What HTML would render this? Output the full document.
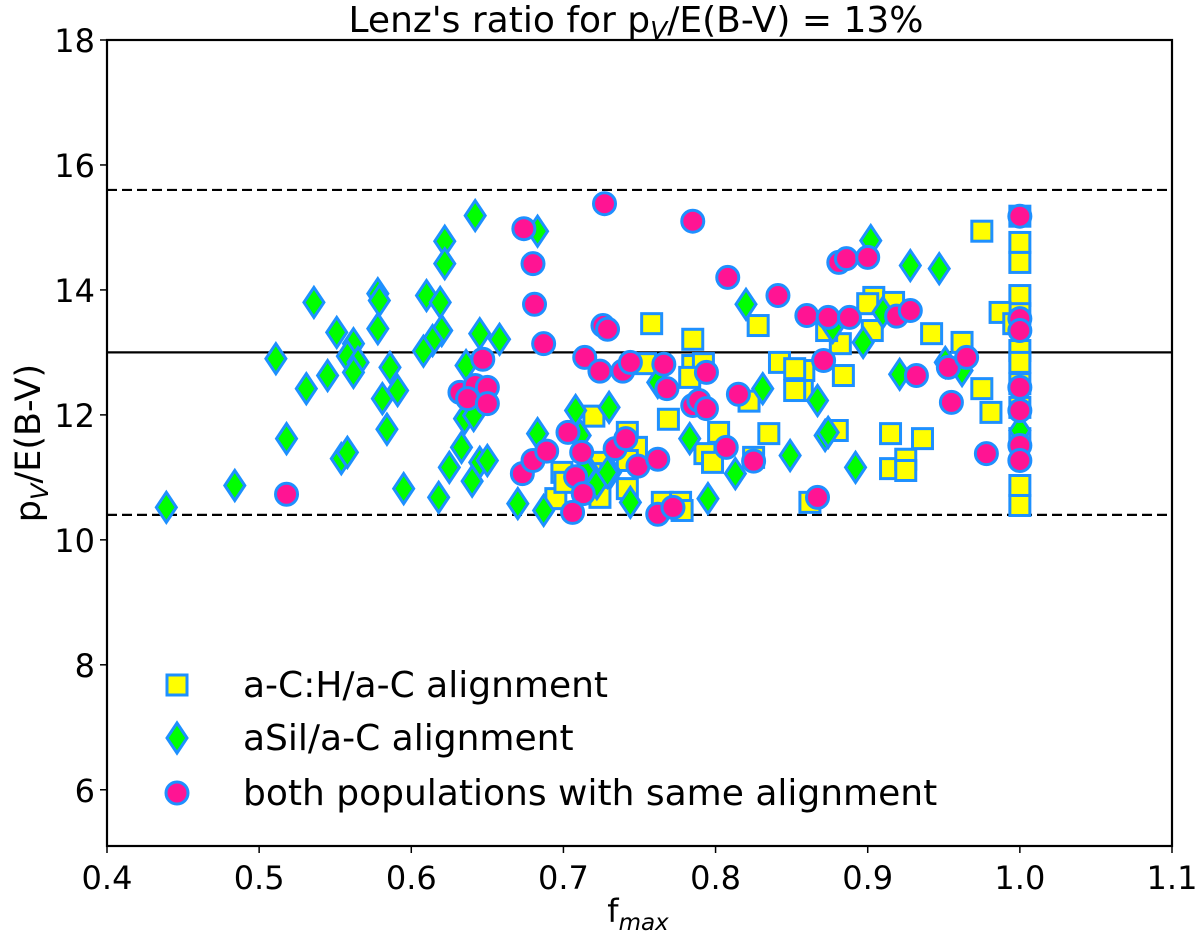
<!DOCTYPE html>
<html>
<head>
<meta charset="utf-8">
<style>
  html,body{margin:0;padding:0;background:#fff;}
  svg{display:block;font-family:"DejaVu Sans","Liberation Sans",sans-serif;}
</style>
</head>
<body>
<svg id="chart" width="1200" height="939" viewBox="0 0 1200 939" xmlns="http://www.w3.org/2000/svg">
  <g id="grid-lines"></g>
  <g id="marks"></g>
  <g id="axes"></g>
  <text x="636" y="32" font-size="36" text-anchor="middle">Lenz's ratio for p<tspan font-size="25" dy="7" font-style="italic">V</tspan><tspan dy="-7">/E(B-V) = 13%</tspan></text>
  <text x="638" y="922" font-size="32" text-anchor="middle">f<tspan font-size="23" dy="8" font-style="italic">max</tspan></text>
  <text transform="translate(40,443) rotate(-90)" font-size="35" text-anchor="middle">p<tspan font-size="24" dy="8" font-style="italic">V</tspan><tspan dy="-8">/E(B-V)</tspan></text>
  <g id="legend"></g>
</svg>
<script>
// ---- data ----
const squareX = [1.0,1.0,1.0,1.0,1.0,1.0,1.0,1.0,1.0,1.0,1.0,1.0,
  .975,.987,.996,.942,.962,.975,.981,.915,.936,.915,.925,.925,.904,.917,.900,.903,.882,.884,.873,.858,.857,.880,.862,
  .758,.785,.828,.754,.785,.792,.783,.842,.852,.852,.822,.769,.720,.742,.802,.835,.748,.793,.798,.699,.724,.742,.825,
  .695,.724,.742,.701,.718,.765,.777,.778];
const squareY = [15.18,14.76,14.44,13.91,13.62,13.03,12.84,12.50,12.12,11.62,10.87,10.55,
  14.94,13.64,13.46,13.30,13.16,12.42,12.04,11.70,11.62,11.14,11.29,11.11,13.88,13.80,13.78,13.35,13.14,12.63,13.35,12.71,12.39,11.75,10.60,
  13.46,13.21,13.43,12.82,12.79,12.82,12.60,12.84,12.74,12.39,12.22,11.93,11.98,11.72,11.72,11.70,11.48,11.38,11.24,11.08,11.24,11.27,11.32,
  10.66,10.68,10.82,10.92,11.06,10.60,10.60,10.47];

const diamondX = [.642,.622,.622,.536,.578,.579,.610,.619,.551,.562,.578,.620,.614,.645,.658,.608,.511,.558,.565,.586,.636,.545,.562,.531,.581,.591,
  .635,.641,.584,.518,.554,.558,.633,.625,.645,.650,.640,.484,.595,.618,.439,.670,.683,.683,.687,
  .820,.762,.831,.708,.730,.783,.849,.711,.715,.731,.813,.744,.795,.722,.714,.729,
  1.0,.902,.928,.947,.910,.897,.921,.951,.962,.867,.872,.874,.892,.877];
const diamondY = [15.19,14.78,14.42,13.80,13.94,13.83,13.91,13.80,13.32,13.14,13.38,13.35,13.19,13.30,13.21,13.02,12.90,12.94,12.84,12.76,12.79,12.63,12.68,12.42,12.26,12.39,
  11.94,11.99,11.77,11.62,11.30,11.40,11.48,11.16,11.24,11.27,10.94,10.87,10.82,10.68,10.52,10.58,14.94,11.70,10.47,
  13.77,12.52,12.42,12.07,12.12,11.62,11.35,11.67,11.16,11.08,11.06,10.60,10.66,10.90,11.11,11.08,
  11.75,14.79,14.39,14.34,13.64,13.16,12.65,12.84,12.71,12.23,11.67,11.72,11.16,13.40];

const circleX = [.674,.680,.681,.687,.647,.632,.642,.650,.637,.650,.518,.673,.680,.689,
  .727,.785,.808,.841,.726,.729,.714,.724,.739,.744,.766,.768,.794,.815,.785,.789,.794,.703,.712,.734,.741,.749,.762,.807,.825,.708,
  .713,.706,.762,.772,
  1.0,1.0,1.0,1.0,1.0,1.0,1.0,
  .881,.886,.900,.860,.874,.888,.919,.928,.871,.932,.953,.965,.955,.978,.867];
const circleY = [14.98,14.42,13.77,13.14,12.89,12.36,12.47,12.44,12.26,12.18,10.73,11.06,11.27,11.42,
  15.38,15.10,14.20,13.91,13.43,13.37,12.92,12.70,12.70,12.84,12.81,12.42,12.68,12.33,12.15,12.23,12.10,11.72,11.40,11.46,11.62,11.18,11.29,11.48,11.26,11.01,
  10.74,10.44,10.41,10.52,
  15.18,13.54,13.35,12.44,12.07,11.51,11.27,
  14.44,14.50,14.52,13.59,13.56,13.56,13.58,13.67,12.87,12.63,12.76,12.92,12.20,11.38,10.68];

const xTicks = [0.4,0.5,0.6,0.7,0.8,0.9,1.0,1.1];
const xTickLabels = ["0.4","0.5","0.6","0.7","0.8","0.9","1.0","1.1"];
const yTicks = [6,8,10,12,14,16,18];
const yTickLabels = ["6","8","10","12","14","16","18"];
const refLines = [10.4,13,15.6];
const refStyles = ["dash","solid","dash"];

// ---- axes ----
const L=107,R=1172,T=40,B=846;
const XMIN=0.4,XMAX=1.1,YMIN=5.1,YMAX=18;
function sx(v){return L+(v-XMIN)/(XMAX-XMIN)*(R-L);}
function sy(v){return B-(v-YMIN)/(YMAX-YMIN)*(B-T);}
const NS="http://www.w3.org/2000/svg";
function mk(tag,attrs,parent){const e=document.createElementNS(NS,tag);for(const k in attrs)e.setAttribute(k,attrs[k]);parent.appendChild(e);return e;}

const grid=document.getElementById('grid-lines');
refLines.forEach((v,i)=>{
  const ln=mk('line',{x1:L,x2:R,y1:sy(v),y2:sy(v),stroke:'#000','stroke-width':2.2},grid);
  if(refStyles[i]==='dash') ln.setAttribute('stroke-dasharray','10 5');
  
  
});

const marks=document.getElementById('marks');
const EDGE='#1e90ff';
squareX.forEach((x,i)=>{
  const cx=sx(x),cy=sy(squareY[i]);
  const r=mk('rect',{x:cx-10,y:cy-10,width:20,height:20,fill:'#ffff00',stroke:EDGE,'stroke-width':3},marks);
  
  
});
diamondX.forEach((x,i)=>{
  const cx=sx(x),cy=sy(diamondY[i]);
  const p=mk('polygon',{points:`${cx},${cy-15} ${cx+10},${cy} ${cx},${cy+15} ${cx-10},${cy}`,fill:'#00ff00',stroke:EDGE,'stroke-width':3},marks);
  
  
});
circleX.forEach((x,i)=>{
  const c=mk('circle',{cx:sx(x),cy:sy(circleY[i]),r:11,fill:'#ff1493',stroke:EDGE,'stroke-width':3},marks);
  
  
});

const axes=document.getElementById('axes');
const frame=mk('rect',{x:L,y:T,width:R-L,height:B-T,fill:'none',stroke:'#000','stroke-width':2.2},axes);


xTicks.forEach((v,i)=>{
  const t=mk('line',{x1:sx(v),x2:sx(v),y1:B,y2:B+7,stroke:'#000','stroke-width':1.5},axes);
  
  
  const lb=mk('text',{x:sx(v),y:B+43,'font-size':32,'text-anchor':'middle'},axes);
  lb.textContent=xTickLabels[i];
  
  
});
yTicks.forEach((v,i)=>{
  const t=mk('line',{x1:L-7,x2:L,y1:sy(v),y2:sy(v),stroke:'#000','stroke-width':1.5},axes);
  
  
  const lb=mk('text',{x:L-12,y:sy(v)+12,'font-size':32,'text-anchor':'end'},axes);
  lb.textContent=yTickLabels[i];
  
  
});

// ---- legend ----
const lg=document.getElementById('legend');
const legendLabels=["a-C:H/a-C alignment","aSil/a-C alignment","both populations with same alignment"];
const legendY=[685,738,793];
const lx=177;
const e1=mk('rect',{x:lx-10,y:legendY[0]-10,width:20,height:20,fill:'#ffff00',stroke:EDGE,'stroke-width':3},lg);


const e2=mk('polygon',{points:`${lx},${legendY[1]-15} ${lx+10},${legendY[1]} ${lx},${legendY[1]+15} ${lx-10},${legendY[1]}`,fill:'#00ff00',stroke:EDGE,'stroke-width':3},lg);


const e3=mk('circle',{cx:lx,cy:legendY[2],r:11,fill:'#ff1493',stroke:EDGE,'stroke-width':3},lg);


legendLabels.forEach((s,i)=>{
  const t=mk('text',{x:243,y:legendY[i]+12,'font-size':36},lg);
  t.textContent=s;
  
  
});
</script>
</body>
</html>
